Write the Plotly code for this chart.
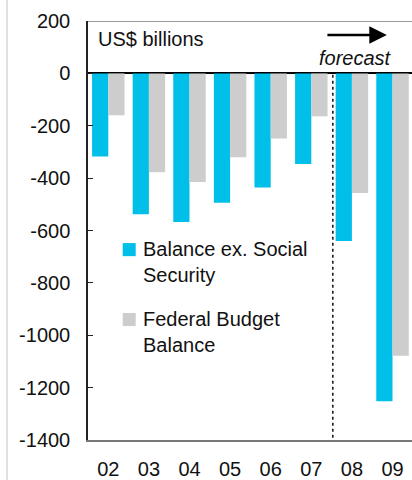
import plotly.graph_objects as go

years = ["02", "03", "04", "05", "06", "07", "08", "09"]
balance_ex_ss = [-317, -538, -568, -494, -436, -346, -640, -1252]
federal_budget = [-160, -378, -415, -320, -249, -164, -457, -1078]
series_names = ["Balance ex. Social<br>Security", "Federal Budget<br>Balance"]
series_colors = ["#00c0ea", "#cdcdcd"]
y_ticks = [200, 0, -200, -400, -600, -800, -1000, -1200, -1400]

FONT = "Liberation Sans, Arial, sans-serif"
FS = 20

fig = go.Figure()
fig.add_trace(go.Bar(x=years, y=balance_ex_ss, name=series_names[0],
                     marker=dict(color=series_colors[0], line=dict(width=0))))
fig.add_trace(go.Bar(x=years, y=federal_budget, name=series_names[1],
                     marker=dict(color=series_colors[1], line=dict(width=0))))

fig.update_layout(
    width=412, height=480,
    margin=dict(l=88, r=0, t=21, b=38),
    paper_bgcolor="white", plot_bgcolor="white",
    barmode="group", bargap=0.2, bargroupgap=0,
    showlegend=False,
    font=dict(family=FONT, size=FS, color="#111111"),
)
fig.update_yaxes(
    range=[-1400, 200], tickvals=y_ticks, ticktext=[str(v) for v in y_ticks],
    showgrid=False, showline=True, linecolor="#222222", linewidth=1.5,
    ticks="inside", ticklen=5, tickcolor="#222222", tickwidth=1,
    ticklabelstandoff=12,
    zeroline=True, zerolinecolor="#000000", zerolinewidth=1.5,
    tickfont=dict(size=FS, family=FONT, color="#111111"),
)
fig.update_xaxes(
    range=[-0.5, 7.48], showgrid=False, showline=True, linecolor="#777777",
    linewidth=2, ticks="", ticklabelstandoff=10,
    tickfont=dict(size=FS, family=FONT, color="#111111"),
)

# top frame line at 200
fig.add_shape(type="line", xref="paper", yref="y", x0=0, x1=1, y0=200, y1=200,
              line=dict(color="#777777", width=1.5))
# forecast divider
fig.add_shape(type="line", xref="x", yref="y", x0=5.53, x1=5.53, y0=-5, y1=-1400,
              line=dict(color="#111111", width=1.5, dash="dot"))
# light gray left border
fig.add_shape(type="line", xref="paper", yref="paper", x0=-0.25, x1=-0.25, y0=-0.2, y1=1.2,
              line=dict(color="#e0e0e0", width=2))

fig.add_annotation(x=-0.3, y=131, xref="x", yref="y", text="US$ billions",
                   showarrow=False, xanchor="left", yanchor="middle",
                   font=dict(size=FS, family=FONT, color="#111111"))
fig.add_annotation(x=6.1, y=57, xref="x", yref="y", text="<i>forecast</i>",
                   showarrow=False, xanchor="center", yanchor="middle",
                   font=dict(size=FS, family=FONT, color="#111111"))
fig.add_annotation(x=6.86, y=147, ax=5.36, ay=147, xref="x", yref="y",
                   axref="x", ayref="y", text="", showarrow=True,
                   arrowhead=2, arrowsize=1.4, arrowwidth=2.5, arrowcolor="#000000")

# legend (manual)
leg_y = [-673, -940]
for name, col, yy in zip(series_names, series_colors, leg_y):
    fig.add_shape(type="rect", xref="x", yref="y",
                  x0=0.355, x1=0.675, y0=yy + 25, y1=yy - 25,
                  line=dict(width=0), fillcolor=col)
    fig.add_annotation(x=0.8, y=yy + 52, xref="x", yref="y", text=name,
                       showarrow=False, xanchor="left", yanchor="top", align="left",
                       font=dict(size=FS, family=FONT, color="#111111"))

fig.write_html("out.html")
